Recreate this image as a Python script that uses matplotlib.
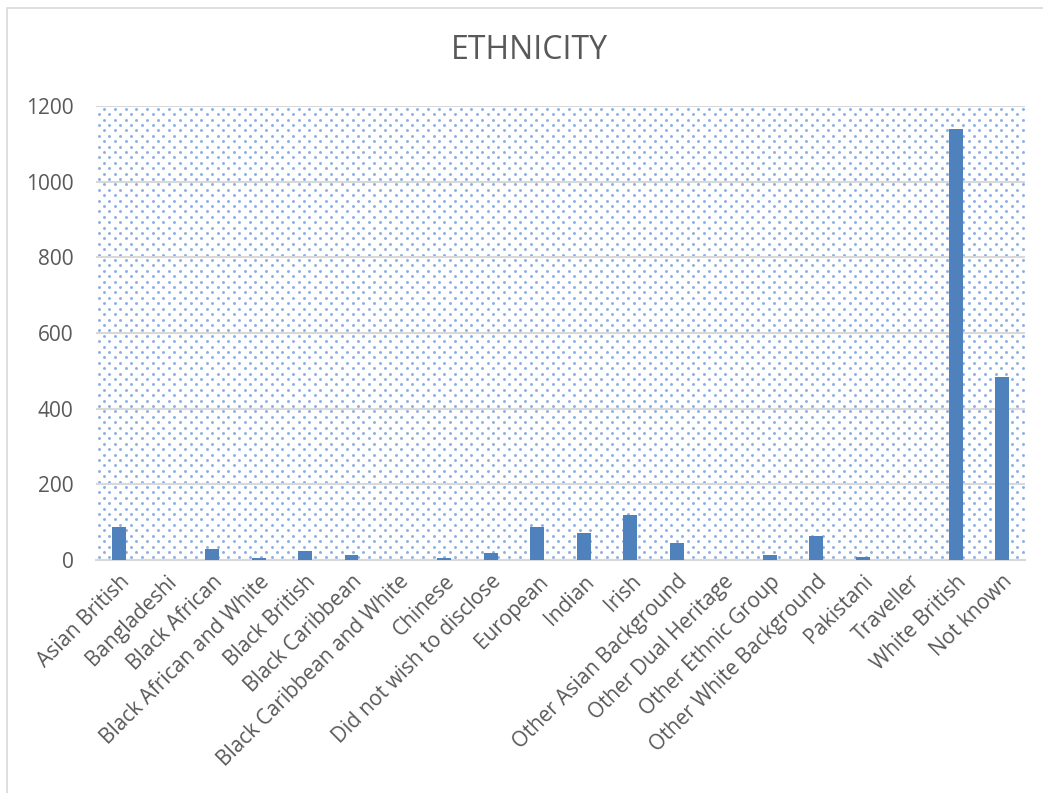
import numpy as np
import matplotlib.pyplot as plt
from matplotlib.lines import Line2D

categories = ["Asian British", "Bangladeshi", "Black African", "Black African and White",
              "Black British", "Black Caribbean", "Black Caribbean and White", "Chinese",
              "Did not wish to disclose", "European", "Indian", "Irish",
              "Other Asian Background", "Other Dual Heritage", "Other Ethnic Group",
              "Other White Background", "Pakistani", "Traveller", "White British", "Not known"]
counts = [86, 0, 30, 6, 23, 14, 0, 6, 19, 88, 72, 119, 46, 1, 14, 64, 9, 0, 1138, 485]
yticks = [0, 200, 400, 600, 800, 1000, 1200]

plt.rcParams['font.family'] = ['Open Sans', 'DejaVu Sans']

fig = plt.figure(figsize=(10.43, 7.93), dpi=100)
# chart-area border (only top and left edges visible)
fig.lines.append(Line2D([0.0068, 0.0068, 1.0], [0.0, 0.990, 0.990], transform=fig.transFigure,
                        color="#d9d9d9", linewidth=1.2))
ax = fig.add_axes([0.092, 0.2938, 0.891, 0.5725])

# dotted pattern fill behind the plot
nx, ny = 86, 84
gx, gy = np.meshgrid(np.arange(nx), np.arange(ny))
px = (gx + 0.5 * (gy % 2) + 0.25) / nx
py = (gy + 0.5) / ny
ax.scatter(px.ravel(), py.ravel(), s=4.5, color="#8cb0e2", linewidths=0,
           transform=ax.transAxes, zorder=0, clip_on=True)

x = np.arange(len(categories))
ax.bar(x, counts, width=0.3, color="#4f81bd", zorder=3)

ax.set_xlim(-0.5, len(categories) - 0.5)
ax.set_ylim(0, 1200)
ax.set_yticks(yticks)
ax.yaxis.grid(True, color="#d9d9d9", linewidth=1.5, zorder=1)
ax.set_axisbelow(True)
for s in ["left", "right", "top"]:
    ax.spines[s].set_visible(False)
ax.spines["bottom"].set_color("#d9d9d9")
ax.spines["bottom"].set_linewidth(1.5)
ax.tick_params(axis="both", length=0, labelsize=15, labelcolor="#595959")
ax.tick_params(axis="y", pad=16)
ax.set_xticks(x)
ax.set_xticklabels(categories, rotation=45, ha="right", rotation_mode="anchor")
ax.tick_params(axis="x", pad=8)

fig.text(0.508, 0.936, "ETHNICITY", ha="center", va="center", fontsize=23, color="#595959")

fig.savefig("out.png", dpi=100)
